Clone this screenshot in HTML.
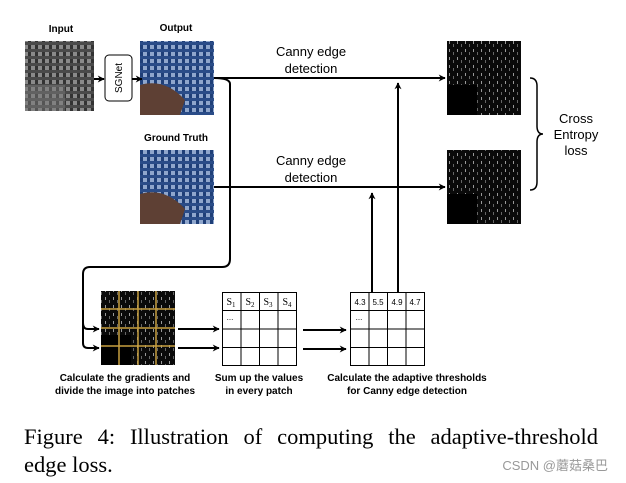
<!DOCTYPE html>
<html><head><style>
body{margin:0;background:#fff;position:relative;width:626px;height:483px;overflow:hidden;}
svg{display:block;}
.cap{position:absolute;left:24px;width:574px;font-family:"Liberation Serif",serif;font-size:22.5px;line-height:26px;color:#000;white-space:nowrap;}
</style></head><body>
<svg width="626" height="483" viewBox="0 0 626 483" xmlns="http://www.w3.org/2000/svg">
<defs>
<pattern id="gray" width="7" height="7" patternUnits="userSpaceOnUse">
<rect width="7" height="7" fill="#8a8a8a"/><rect width="3" height="7" fill="#333"/><rect width="7" height="3" fill="#4a4a4a"/>
</pattern>
<pattern id="blue" width="7" height="7" patternUnits="userSpaceOnUse">
<rect width="7" height="7" fill="#8fa6cc"/><rect width="3" height="7" fill="#1f3f78"/><rect width="7" height="3" fill="#2a4c88"/>
</pattern>
<pattern id="edge" width="8" height="8" patternUnits="userSpaceOnUse">
<rect width="8" height="8" fill="#0a0a0a"/><rect x="1" y="1" width="1" height="3" fill="#999"/><rect x="5" y="4" width="1" height="3" fill="#666"/>
</pattern>
<marker id="ah" viewBox="0 0 10 10" refX="9" refY="5" markerWidth="7" markerHeight="7" orient="auto-start-reverse" markerUnits="userSpaceOnUse">
<path d="M0,0 L10,5 L0,10 L3,5 z" fill="#000"/>
</marker>
</defs>
<g font-family="Liberation Sans, sans-serif" font-weight="bold" font-size="10" text-anchor="middle" fill="#000">
<text x="61" y="32">Input</text>
<text x="176" y="31">Output</text>
<text x="176" y="141">Ground Truth</text>
</g>
<rect x="25" y="41" width="69" height="70" fill="url(#gray)"/>
<rect x="25" y="85" width="40" height="26" fill="#777" opacity="0.5"/>
<rect x="140" y="41" width="74" height="74" fill="url(#blue)"/>
<path d="M140 85 Q165 78 185 100 L180 115 L140 115 z" fill="#5e4034"/>
<rect x="140" y="150" width="74" height="74" fill="url(#blue)"/>
<path d="M140 194 Q165 187 185 209 L180 224 L140 224 z" fill="#5e4034"/>
<rect x="447" y="41" width="74" height="74" fill="url(#edge)"/>
<rect x="447" y="85" width="30" height="30" fill="#000"/>
<rect x="447" y="150" width="74" height="74" fill="url(#edge)"/>
<rect x="447" y="194" width="30" height="30" fill="#000"/>
<rect x="105" y="55" width="27" height="46" rx="4" fill="#fff" stroke="#000" stroke-width="1"/>
<text x="0" y="0" transform="translate(122,78) rotate(-90)" font-family="Liberation Sans, sans-serif" font-size="10" text-anchor="middle">SGNet</text>
<g stroke="#000" stroke-width="2" fill="none">
<line x1="94" y1="79" x2="104" y2="79" marker-end="url(#ah)"/>
<line x1="132" y1="79" x2="142" y2="79" marker-end="url(#ah)"/>
<line x1="214" y1="78" x2="445" y2="78" marker-end="url(#ah)"/>
<line x1="214" y1="187" x2="445" y2="187" marker-end="url(#ah)"/>
<path d="M214 78 Q230 78 230 84 L230 259 Q230 267 222 267 L90 267 Q83 267 83 274 L83 343 Q83 348 88 348 L99 348" marker-end="url(#ah)"/>
<path d="M83 323 Q83 329 88 329 L99 329" marker-end="url(#ah)"/>
<line x1="398" y1="292" x2="398" y2="83" marker-end="url(#ah)"/>
<line x1="372" y1="292" x2="372" y2="193" marker-end="url(#ah)"/>
<line x1="178" y1="329" x2="219" y2="329" marker-end="url(#ah)"/>
<line x1="178" y1="348" x2="219" y2="348" marker-end="url(#ah)"/>
<line x1="303" y1="330" x2="346" y2="330" marker-end="url(#ah)"/>
<line x1="303" y1="349" x2="346" y2="349" marker-end="url(#ah)"/>
</g>
<path d="M530 78 Q537 78 537 86 L537 126 Q537 134 543 134 Q537 134 537 142 L537 182 Q537 190 530 190" stroke="#000" stroke-width="1.5" fill="none"/>
<g font-family="Liberation Sans, sans-serif" font-size="13" text-anchor="middle">
<text x="576" y="123">Cross</text>
<text x="576" y="139">Entropy</text>
<text x="576" y="155">loss</text>
<text x="311" y="56">Canny edge</text>
<text x="311" y="73">detection</text>
<text x="311" y="165">Canny edge</text>
<text x="311" y="182">detection</text>
</g>
<rect x="101" y="291" width="74" height="74" fill="url(#edge)"/>
<rect x="101" y="335" width="30" height="30" fill="#000"/>
<g stroke="#c8a040" stroke-width="1.5">
<line x1="119" y1="291" x2="119" y2="365"/><line x1="138" y1="291" x2="138" y2="365"/><line x1="156" y1="291" x2="156" y2="365"/>
<line x1="101" y1="309" x2="175" y2="309"/><line x1="101" y1="328" x2="175" y2="328"/><line x1="101" y1="346" x2="175" y2="346"/>
</g>
<g stroke="#000" stroke-width="1" fill="none">
<rect x="222.5" y="292.5" width="74" height="73"/>
<line x1="241" y1="292" x2="241" y2="366"/><line x1="259.5" y1="292" x2="259.5" y2="366"/><line x1="278" y1="292" x2="278" y2="366"/>
<line x1="222" y1="310.5" x2="297" y2="310.5"/><line x1="222" y1="329" x2="297" y2="329"/><line x1="222" y1="347.5" x2="297" y2="347.5"/>
<rect x="350.5" y="292.5" width="74" height="73"/>
<line x1="369" y1="292" x2="369" y2="366"/><line x1="387.5" y1="292" x2="387.5" y2="366"/><line x1="406" y1="292" x2="406" y2="366"/>
<line x1="350" y1="310.5" x2="425" y2="310.5"/><line x1="350" y1="329" x2="425" y2="329"/><line x1="350" y1="347.5" x2="425" y2="347.5"/>
</g>
<g font-family="Liberation Serif, serif" font-size="10" text-anchor="middle">
<text x="231" y="305">S<tspan font-size="7" dy="2">1</tspan></text>
<text x="250" y="305">S<tspan font-size="7" dy="2">2</tspan></text>
<text x="268" y="305">S<tspan font-size="7" dy="2">3</tspan></text>
<text x="287" y="305">S<tspan font-size="7" dy="2">4</tspan></text>
</g>
<g font-family="Liberation Sans, sans-serif" font-size="8" text-anchor="middle">
<text x="360" y="305">4.3</text><text x="378" y="305">5.5</text><text x="397" y="305">4.9</text><text x="415" y="305">4.7</text>
<text x="230" y="320">...</text><text x="359" y="320">...</text>
</g>
<g font-family="Liberation Sans, sans-serif" font-weight="bold" font-size="10" text-anchor="middle">
<text x="125" y="381">Calculate the gradients and</text>
<text x="125" y="394">divide the image into patches</text>
<text x="259" y="381">Sum up the values</text>
<text x="259" y="394">in every patch</text>
<text x="407" y="381">Calculate the adaptive thresholds</text>
<text x="407" y="394">for Canny edge detection</text>
</g>
<text x="608" y="470" text-anchor="end" font-family="Liberation Sans, Noto Sans CJK SC, sans-serif" font-size="13" fill="#999">CSDN @蘑菇桑巴</text>
</svg>
<div class="cap" style="top:424px;text-align:justify;text-align-last:justify;white-space:normal;">Figure 4: Illustration of computing the adaptive-threshold</div>
<div class="cap" style="top:452px;">edge loss.</div>
</body></html>
